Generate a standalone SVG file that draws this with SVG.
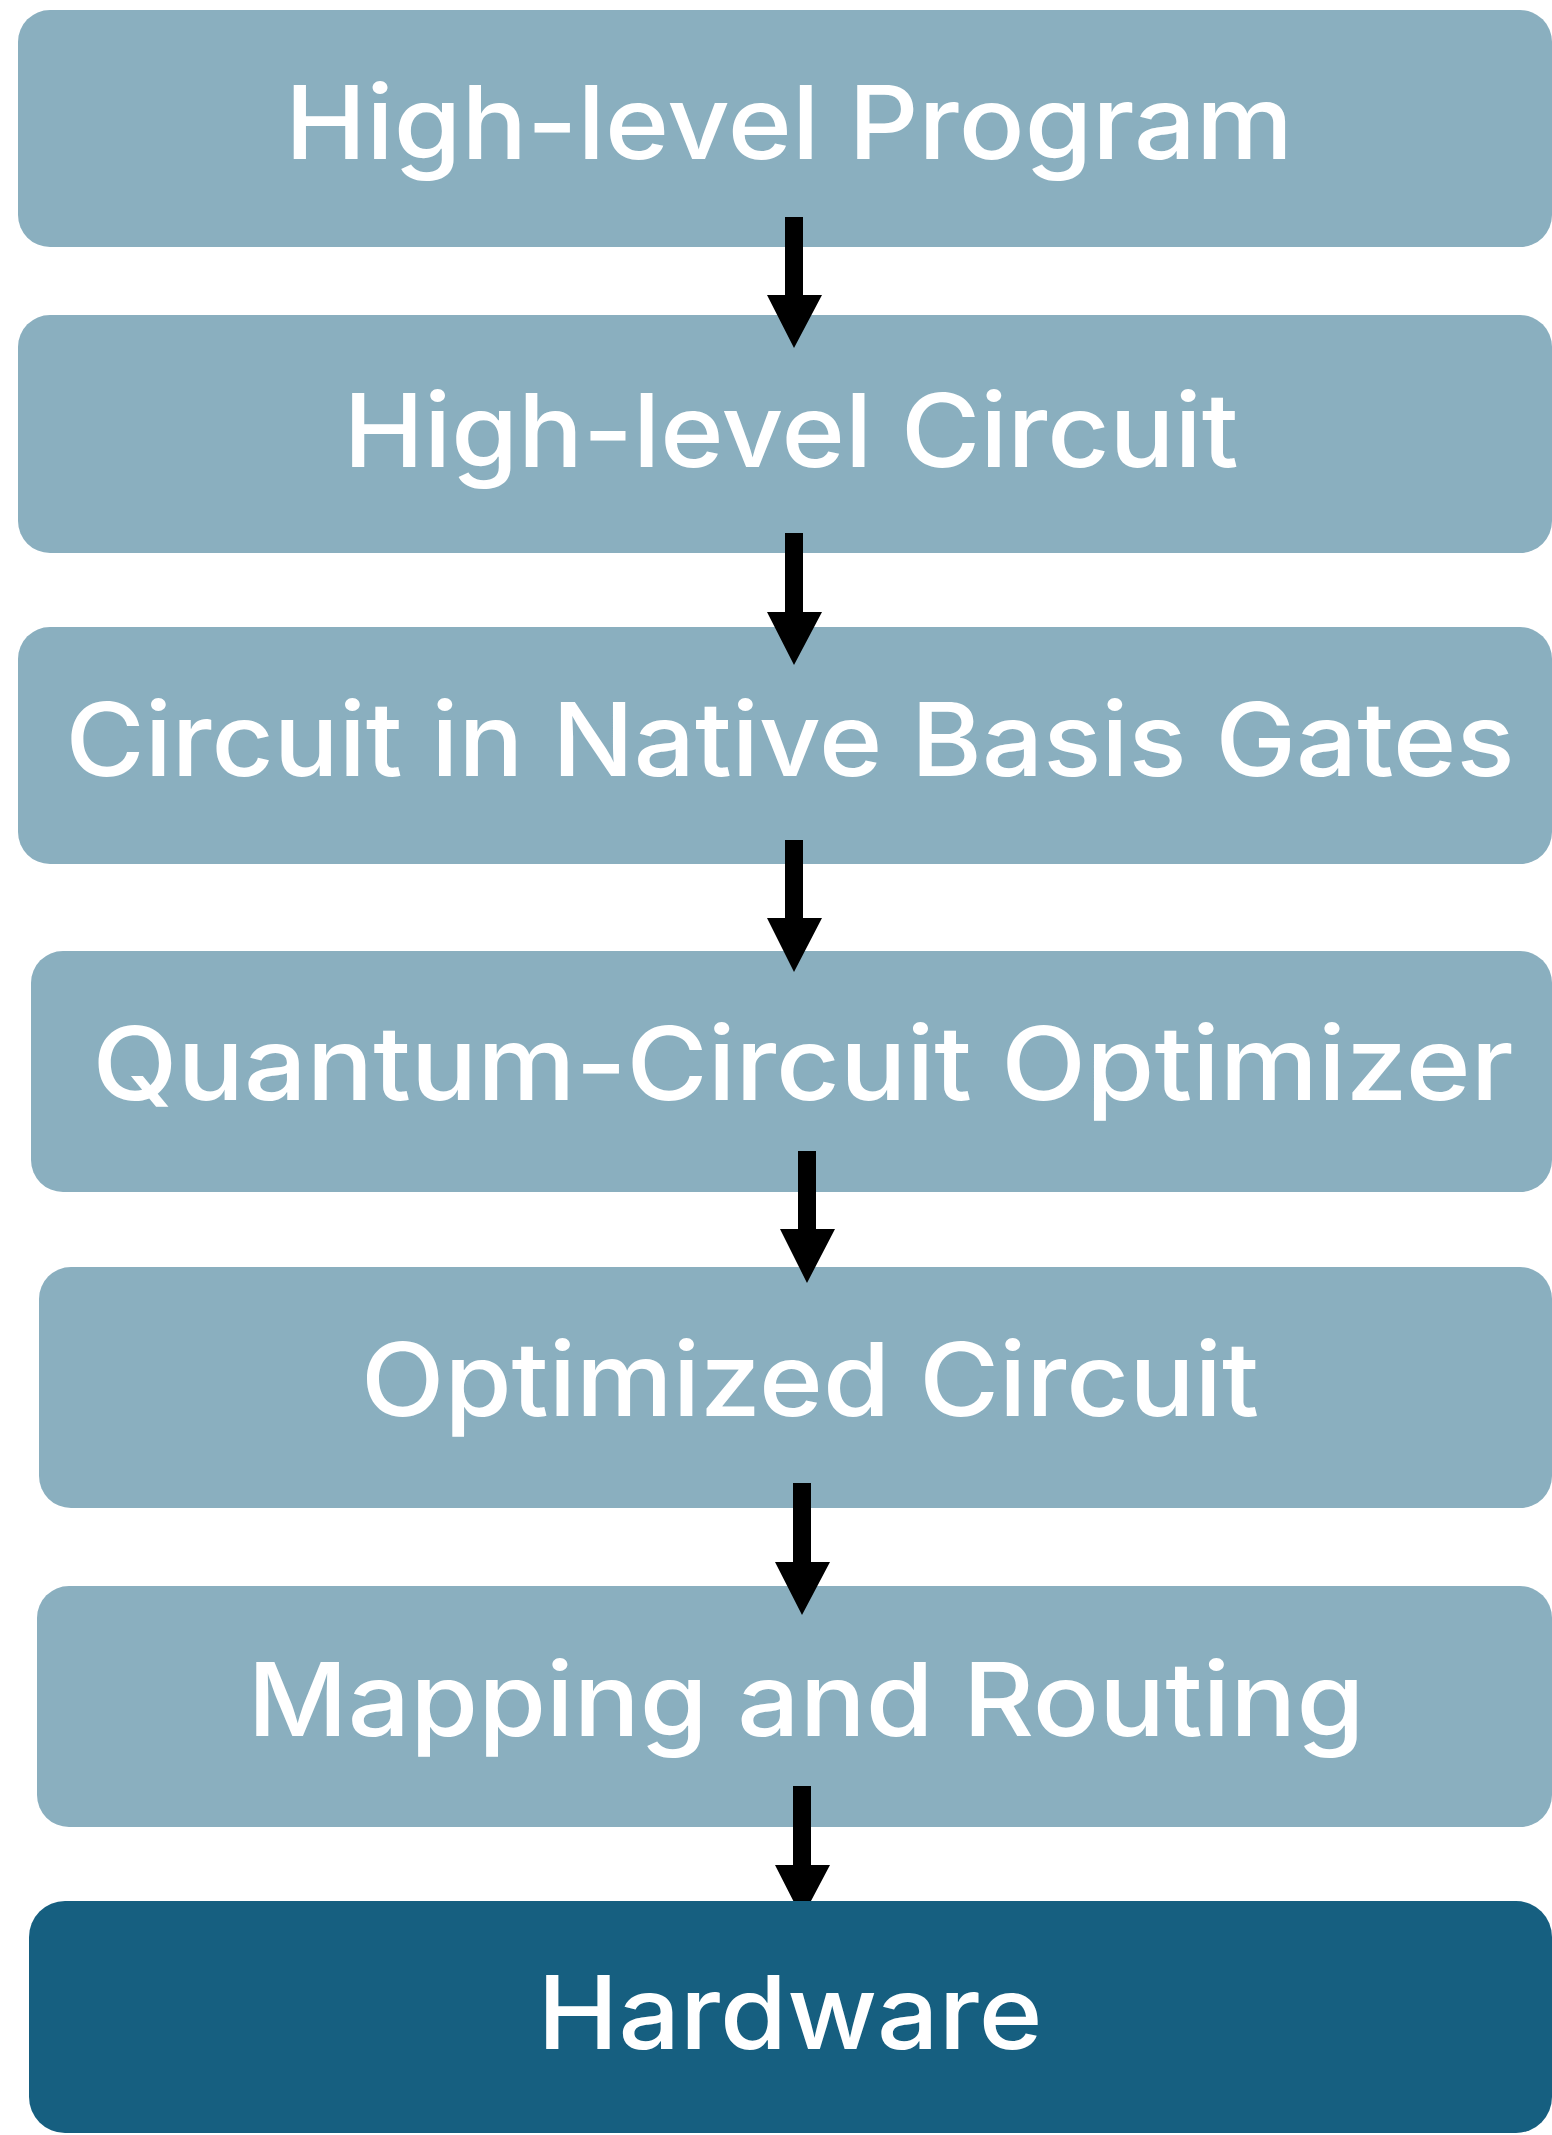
<svg xmlns="http://www.w3.org/2000/svg" width="1552" height="2135" viewBox="0 0 1552 2135">
<style>
.box{fill:#8AAFBF}
.hw{fill:#165F80}
.t{font-family:Inter,"Liberation Sans",sans-serif;font-size:102px;font-weight:500;fill:#ffffff;text-anchor:middle}
.arr{fill:#000000}
</style>
<rect width="1552" height="2135" fill="#ffffff"/>
<g id="n1"><rect class="box" x="18" y="10" width="1534" height="237" rx="32"/><text class="t" x="789" y="159" textLength="1008" lengthAdjust="spacingAndGlyphs">High-level Program</text></g>
<g id="n2"><rect class="box" x="18" y="315" width="1534" height="238" rx="32"/><text class="t" x="791" y="467" textLength="895" lengthAdjust="spacingAndGlyphs">High-level Circuit</text></g>
<g id="n3"><rect class="box" x="18" y="627" width="1534" height="237" rx="32"/><text class="t" x="790" y="776" textLength="1449" lengthAdjust="spacingAndGlyphs">Circuit in Native Basis Gates</text></g>
<g id="n4"><rect class="box" x="31" y="951" width="1521" height="241" rx="32"/><text class="t" x="803" y="1100" textLength="1421" lengthAdjust="spacingAndGlyphs">Quantum-Circuit Optimizer</text></g>
<g id="n5"><rect class="box" x="39" y="1267" width="1513" height="241" rx="32"/><text class="t" x="810" y="1416" textLength="898" lengthAdjust="spacingAndGlyphs">Optimized Circuit</text></g>
<g id="n6"><rect class="box" x="37" y="1586" width="1515" height="241" rx="32"/><text class="t" x="806" y="1736" textLength="1117" lengthAdjust="spacingAndGlyphs">Mapping and Routing</text></g>
<g id="connectors">
<polygon class="arr" points="785,217 803,217 803,295 822,295 794,348 767,295 785,295"/>
<polygon class="arr" points="785,533 803,533 803,612 822,612 794,665 767,612 785,612"/>
<polygon class="arr" points="785,840 803,840 803,918 822,918 794,972 767,918 785,918"/>
<polygon class="arr" points="798,1151 816,1151 816,1229 835,1229 807,1283 780,1229 798,1229"/>
<polygon class="arr" points="793,1483 811,1483 811,1562 830,1562 802,1615 775,1562 793,1562"/>
<polygon class="arr" points="793,1786 811,1786 811,1865 830,1865 802,1918 775,1865 793,1865"/>
</g>
<g id="n7"><rect class="hw" x="29" y="1901" width="1523" height="232" rx="36"/><text class="t" x="790" y="2049" textLength="505" lengthAdjust="spacingAndGlyphs">Hardware</text></g>
</svg>
